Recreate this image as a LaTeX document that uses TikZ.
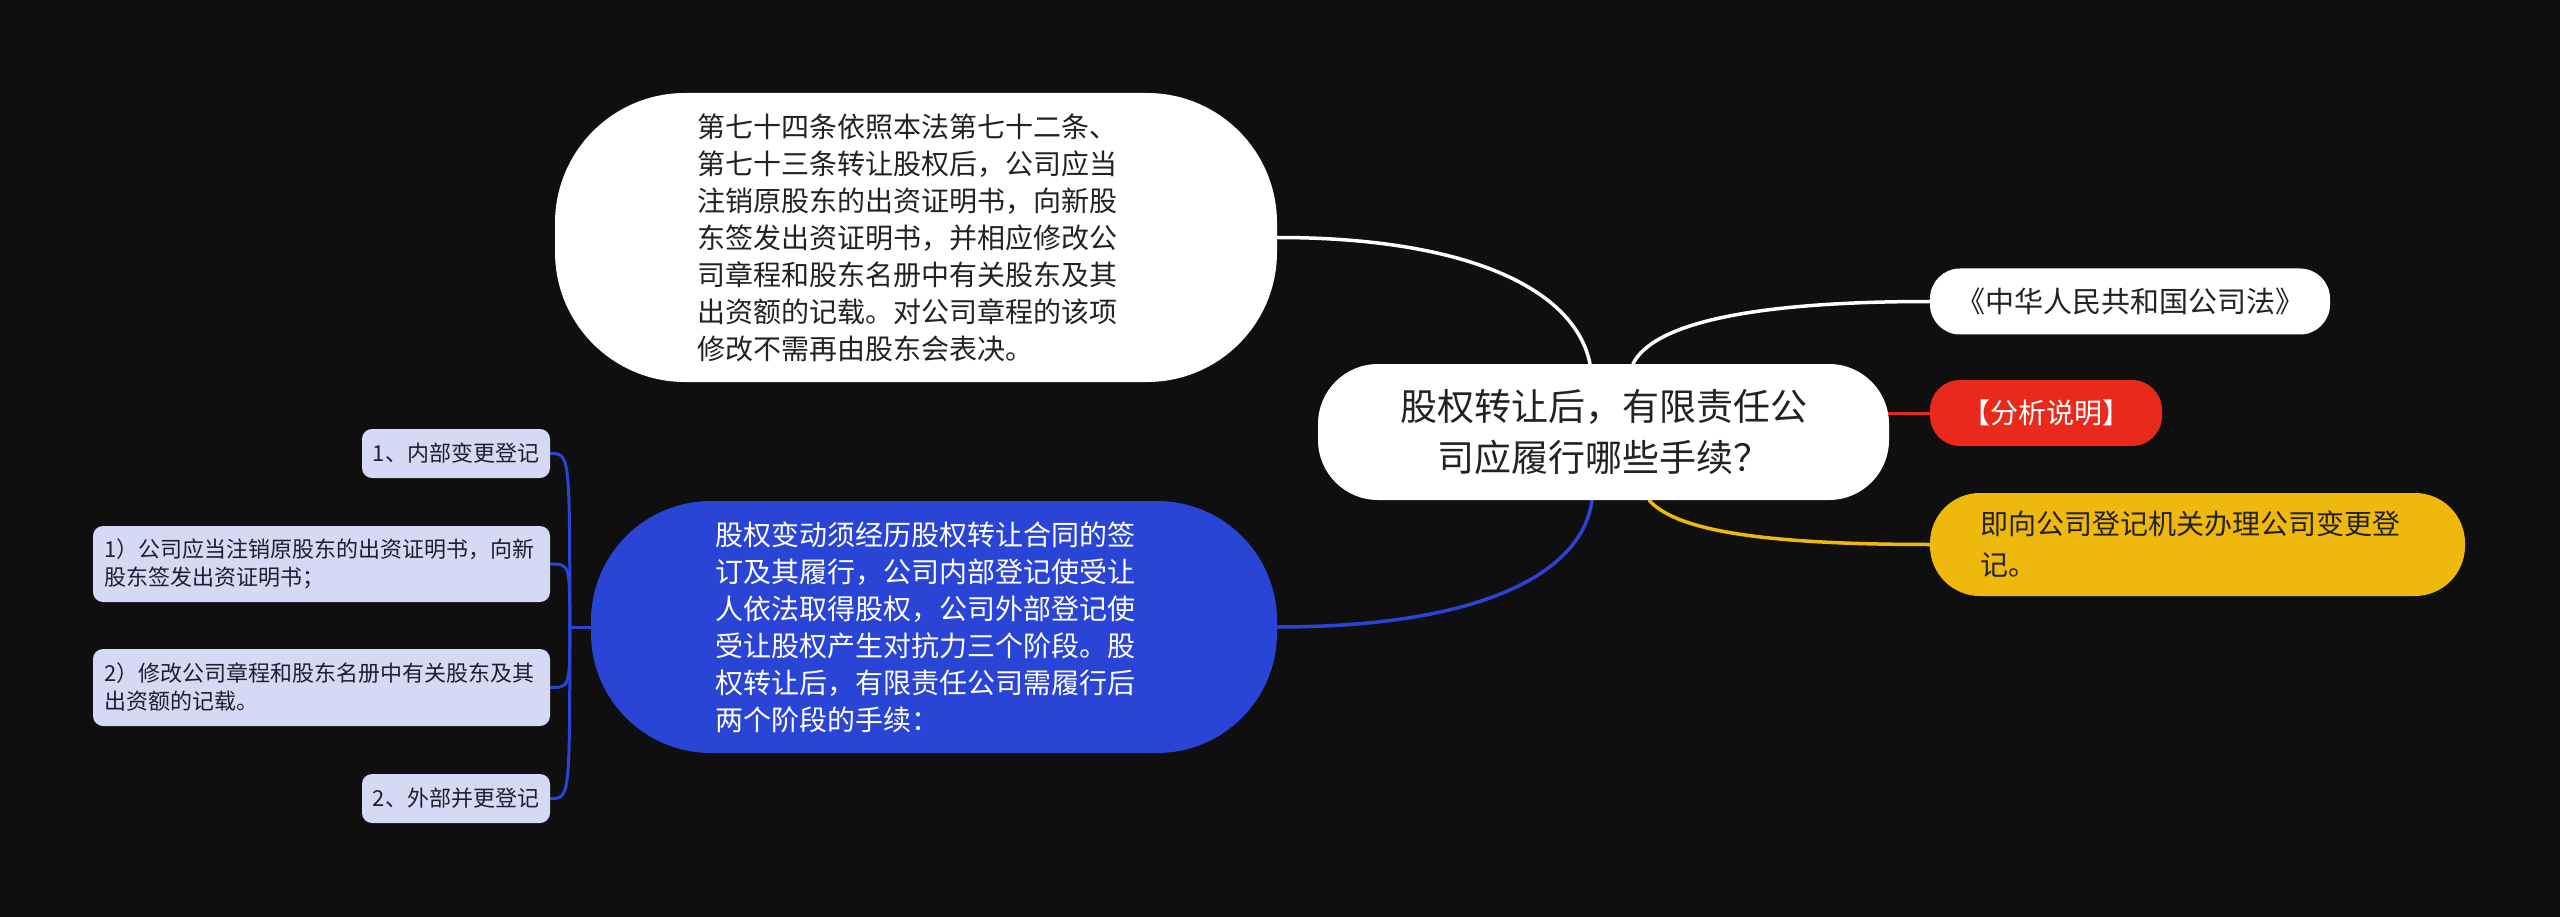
\documentclass[tikz,border=0pt]{standalone}
\usepackage{fontspec}
\setmainfont{Noto Sans CJK SC}
\definecolor{bgc}{HTML}{0F0F0F}
\definecolor{txtdark}{HTML}{222222}
\definecolor{bluec}{HTML}{2A44D6}
\definecolor{redc}{HTML}{E8291C}
\definecolor{yelc}{HTML}{EFB80C}
\definecolor{lavc}{HTML}{D6D9F5}
\definecolor{lavtxt}{HTML}{1E1E2E}
\pgfdeclarelayer{bglayer}
\pgfsetlayers{bglayer,main}
\begin{document}
\begin{tikzpicture}[x=1pt,y=-1pt,
  box/.style={rectangle, inner sep=0pt},
  conn/.style={line width=3.5pt, line cap=round},
  brk/.style={line width=3pt, line cap=round, draw=bluec},
  small/.style={box, fill=lavc, text=lavtxt, rounded corners=10pt, font=\fontsize{22pt}{28pt}\selectfont}
]
\useasboundingbox (0,0) rectangle (2560,917);

\node[box, fill=white, text=txtdark, rounded corners=130pt, minimum width=722pt, minimum height=289pt,
  text width=438pt, align=left, font=\fontsize{28pt}{37pt}\selectfont] (top) at (916,237.5)
  {第七十四条依照本法第七十二条、\\第七十三条转让股权后，公司应当\\注销原股东的出资证明书，向新股\\东签发出资证明书，并相应修改公\\司章程和股东名册中有关股东及其\\出资额的记载。对公司章程的该项\\修改不需再由股东会表决。};

\node[box, fill=bluec, text=white, rounded corners=120pt, minimum width=686pt, minimum height=252pt,
  text width=438pt, align=left, font=\fontsize{28pt}{37pt}\selectfont] (blue) at (934,627)
  {股权变动须经历股权转让合同的签\\订及其履行，公司内部登记使受让\\人依法取得股权，公司外部登记使\\受让股权产生对抗力三个阶段。股\\权转让后，有限责任公司需履行后\\两个阶段的手续：};

\node[box, fill=white, text=txtdark, rounded corners=60pt, minimum width=571pt, minimum height=136pt,
  text width=420pt, align=center, font=\fontsize{37pt}{51pt}\selectfont] (center) at (1603.5,432)
  {股权转让后，有限责任公\\司应履行哪些手续？};

\node[box, fill=white, text=txtdark, rounded corners=30pt, minimum width=400pt, minimum height=66pt,
  font=\fontsize{29pt}{36pt}\selectfont] (law) at (2130,301.5) {《中华人民共和国公司法》};

\node[box, fill=redc, text=white, rounded corners=30pt, minimum width=232pt, minimum height=66pt,
  font=\fontsize{28pt}{36pt}\selectfont] (red) at (2046,413) {【分析说明】};

\node[box, fill=yelc, text=txtdark, rounded corners=50pt, minimum width=535pt, minimum height=103pt,
  text width=435pt, align=left, font=\fontsize{28pt}{41pt}\selectfont] (yel) at (2197.5,544.5)
  {即向公司登记机关办理公司变更登\\记。};

\node[small, minimum width=188pt, minimum height=49pt] (s1) at (456,453.5) {1、内部变更登记};
\node[small, minimum width=457pt, minimum height=76pt, text width=435pt, align=left] (s2) at (321.5,564)
  {1）公司应当注销原股东的出资证明书，向新\\股东签发出资证明书；};
\node[small, minimum width=457pt, minimum height=77pt, text width=435pt, align=left] (s3) at (321.5,687.5)
  {2）修改公司章程和股东名册中有关股东及其\\出资额的记载。};
\node[small, minimum width=188pt, minimum height=49pt] (s4) at (456,798.5) {2、外部并更登记};

\coordinate (br) at ([xshift=-21pt]blue.west);

\begin{pgfonlayer}{bglayer}
\fill[bgc] (0,0) rectangle (2560,917);
\draw[conn, white] ([xshift=-13.5pt]center.north) .. controls +(-15,-75) and +(190,0) .. (top.east);
\draw[conn, white] ([xshift=29.5pt]center.north) .. controls +(20,-40) and +(-180,0) .. (law.west);
\draw[conn, redc, line width=3pt] (red.west) -- ([xshift=-20pt]red.west -| center.east);
\draw[conn, yelc] ([xshift=45.5pt]center.south) .. controls +(25,28) and +(-180,0) .. (yel.west);
\draw[conn, bluec] ([xshift=-11.5pt]center.south) .. controls +(-10,75) and +(200,0) .. (blue.east);
\draw[brk] (blue.west) -- (br);
\draw[brk] (br) .. controls (br |- s1.east) and (br |- s1.east) .. (s1.east);
\draw[brk] (br) .. controls (br |- s2.east) and (br |- s2.east) .. (s2.east);
\draw[brk] (br) .. controls (br |- s3.east) and (br |- s3.east) .. (s3.east);
\draw[brk] (br) .. controls (br |- s4.east) and (br |- s4.east) .. (s4.east);
\end{pgfonlayer}
\end{tikzpicture}
\end{document}
